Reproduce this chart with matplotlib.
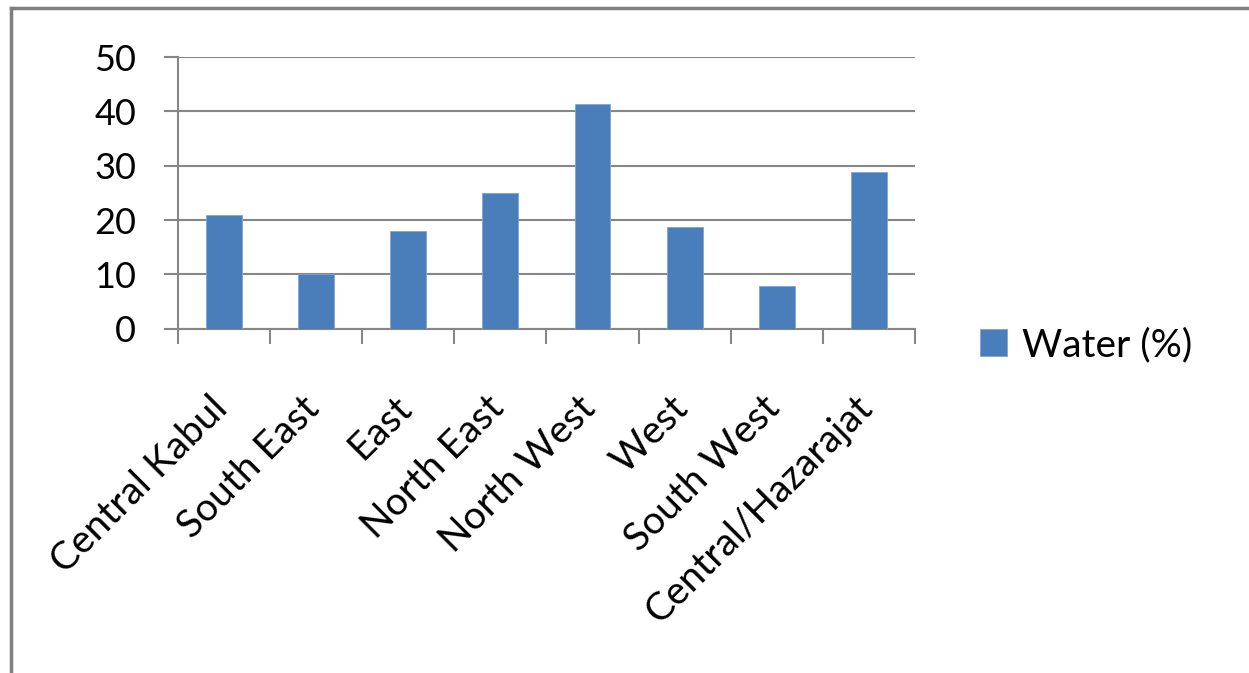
import matplotlib.pyplot as plt
from matplotlib.lines import Line2D
from matplotlib.transforms import ScaledTranslation
import numpy as np

plt.rcParams['font.family'] = ['Lato', 'DejaVu Sans']

# regional share with water access
regions = ['Central Kabul', 'South East', 'East', 'North East',
           'North West', 'West', 'South West', 'Central/Hazarajat']
water = [21, 10, 17.9, 25, 41.3, 18.8, 7.8, 28.8]
yticks = [0, 10, 20, 30, 40, 50]

grey = '#868686'
blue = '#4A7EBB'

fig = plt.figure(figsize=(12.49, 6.73), dpi=100)
ax = fig.add_axes([0.1425, 0.5116, 0.590, 0.4037])

x = np.arange(len(regions))
bars = ax.bar(x, water, width=0.39, color=blue, edgecolor='#7FA6D6',
              linewidth=0.6, label='Water (%)', zorder=3)

ax.set_xlim(-0.5, len(regions) - 0.5)
ax.set_ylim(0, 50)
ax.set_yticks(yticks)
ax.set_yticklabels([str(v) for v in yticks], fontsize=26)
ax.yaxis.grid(True, color=grey, linewidth=1.5, zorder=0)

# category boundaries carry the tick marks, labels sit at the centres
ax.set_xticks(np.arange(len(regions) + 1) - 0.5)
ax.set_xticklabels([])
ax.set_xticks(x, minor=True)
ax.set_xticklabels(regions, minor=True, rotation=45, ha='right',
                   va='top', rotation_mode='anchor', fontsize=28)
ax.tick_params(axis='x', which='minor', length=0, pad=36)
ax.tick_params(axis='x', which='major', length=11, width=1.5, color=grey)
ax.tick_params(axis='y', length=10, width=1.5, color=grey, pad=20)

# nudge the slanted labels down-left along their baseline
shift = ScaledTranslation(-0.15, -0.11, fig.dpi_scale_trans)
for lbl in ax.get_xticklabels(minor=True):
    lbl.set_transform(lbl.get_transform() + shift)

for side in ['top', 'right']:
    ax.spines[side].set_visible(False)
for side in ['left', 'bottom']:
    ax.spines[side].set_color(grey)
    ax.spines[side].set_linewidth(1.5)

fig.legend(handles=[bars], loc='center left', bbox_to_anchor=(0.757, 0.487),
           frameon=False, fontsize=28, handlelength=0.68, handleheight=0.68,
           handletextpad=0.38)

# outer chart border (top and left edges)
fig.add_artist(Line2D([0.0085, 1.0], [0.9881, 0.9881], color='#7F7F7F',
                      linewidth=2.5, transform=fig.transFigure))
fig.add_artist(Line2D([0.0085, 0.0085], [0.0, 0.9881], color='#7F7F7F',
                      linewidth=2.5, transform=fig.transFigure))

fig.savefig('out.png', dpi=100)
